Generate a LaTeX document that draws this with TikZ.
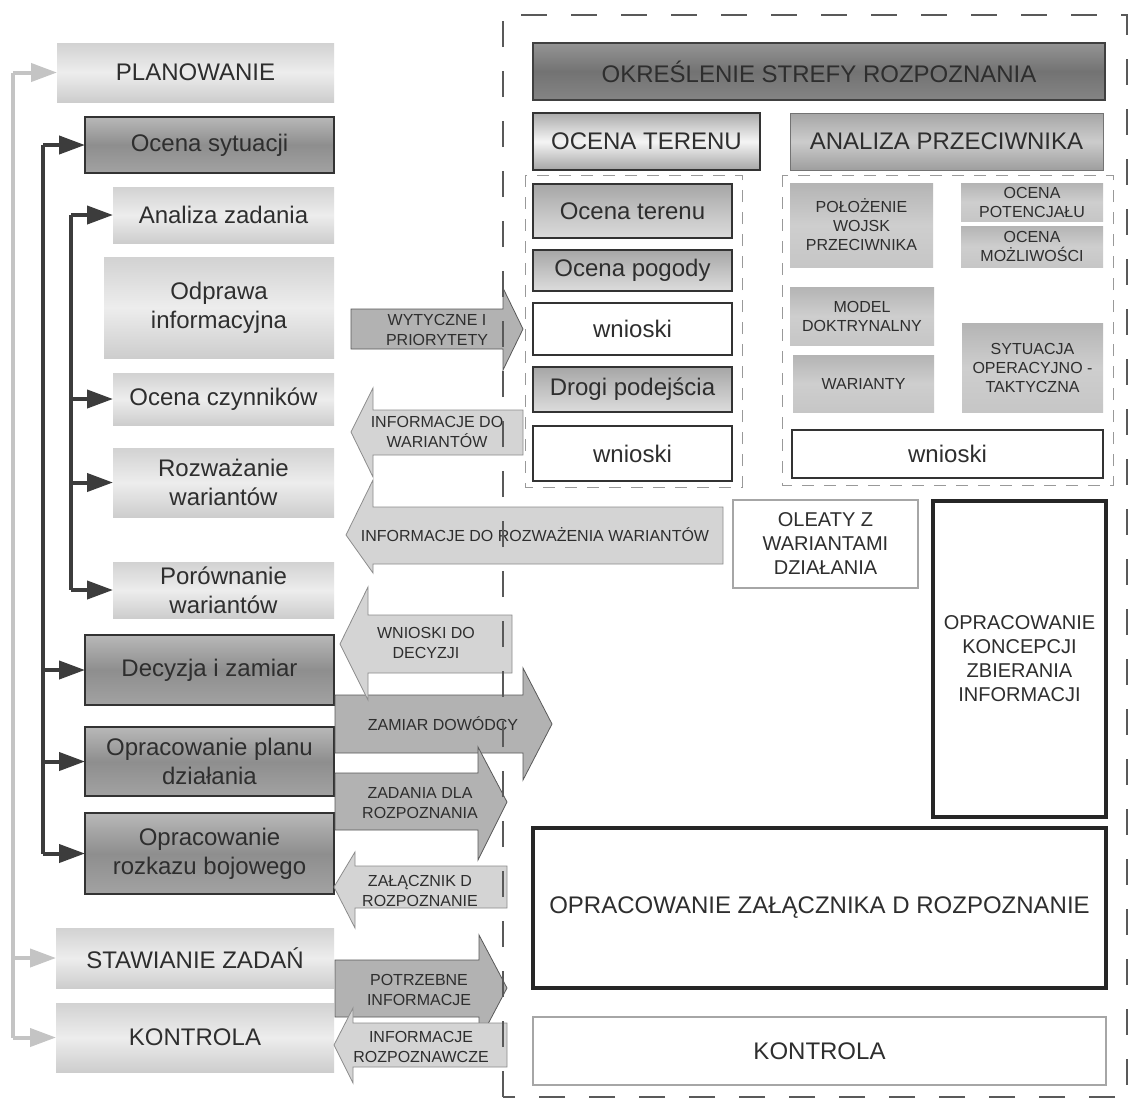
\documentclass[tikz,border=0pt]{standalone}
\usepackage{fontspec}
\setmainfont{Liberation Sans}
\usetikzlibrary{arrows.meta,calc}
\definecolor{txt}{HTML}{2E2E2E}
\definecolor{dk}{HTML}{333333}
\definecolor{lt1}{HTML}{D2D2D2}
\definecolor{lt2}{HTML}{EDEDED}
\definecolor{lt3}{HTML}{CDCDCD}
\definecolor{dg1}{HTML}{B8B8B8}
\definecolor{dg2}{HTML}{8E8E8E}
\definecolor{dg3}{HTML}{A2A2A2}
\definecolor{md1}{HTML}{A6A6A6}
\definecolor{md2}{HTML}{C2C2C2}
\definecolor{md3}{HTML}{DCDCDC}
\definecolor{sm1}{HTML}{B4B4B4}
\definecolor{sm2}{HTML}{CECECE}
\definecolor{sm3}{HTML}{C6C6C6}
\definecolor{glin}{HTML}{C4C4C4}
\definecolor{dlin}{HTML}{3C3C3C}
\newcommand\mybox[7]{%
  \pgfmathsetmacro\mbcx{(#3+#5)/2}\pgfmathsetmacro\mbcy{(#4+#6)/2}%
  \pgfmathsetmacro\mbww{#5-#3}\pgfmathsetmacro\mbhh{#6-#4}%
  \node[#2, minimum width=\mbww pt, minimum height=\mbhh pt] (#1) at (\mbcx,\mbcy) {#7};}
\begin{document}
\begin{tikzpicture}[x=1pt,y=-1pt,
  box/.style={inner sep=0pt, outer sep=0pt, align=center, text=txt, font=\fontsize{24}{29}\selectfont},
  lightbox/.style={box, top color=lt1, bottom color=lt3, middle color=lt2},
  darkbox/.style={box, draw=dk, line width=1.5pt, top color=dg1, bottom color=dg3, middle color=dg2},
  medbox/.style={box, draw=dk, line width=1.5pt, top color=md1, bottom color=md3, middle color=md2},
  whitebox/.style={box, draw=dk, line width=1.5pt, fill=white},
  smallbox/.style={box, font=\fontsize{16}{19}\selectfont, top color=sm1, bottom color=sm3, middle color=sm2},
  bigtxt/.style={box, font=\fontsize{20}{24}\selectfont, fill=white},
  arrtxt/.style={inner sep=0pt, align=center, text=txt, font=\fontsize{16}{19.5}\selectfont},
  fatdark/.style={draw=black!65, line width=0.8pt, fill=black!30},
  fatlight/.style={draw=black!45, line width=0.8pt, fill=black!17},
  gline/.style={draw=glin, line width=4pt},
  garrow/.style={draw=glin, line width=4pt, -{Triangle[length=26pt,width=18pt]}},
  dline/.style={draw=dlin, line width=4pt},
  darrow/.style={draw=dlin, line width=4pt, -{Triangle[length=26pt,width=18pt]}},
  outerdash/.style={draw=black!65, line width=2.5pt, dash pattern=on 26pt off 24pt},
  innerdash/.style={draw=black!40, line width=0.9pt, dash pattern=on 12pt off 10pt}
]
\fill[white] (0,0) rectangle (1130,1101);
\useasboundingbox (0,0) rectangle (1130,1101);

% ---------- left column ----------
\mybox{plan}{lightbox}{57}{43}{334}{102}{PLANOWANIE}
\mybox{ocs}{darkbox}{85}{117}{334}{173}{Ocena sytuacji}
\mybox{anz}{lightbox}{113}{187}{334}{243}{Analiza zadania}
\mybox{odp}{lightbox}{104}{257}{334}{358}{Odprawa\\informacyjna}
\mybox{ocz}{lightbox}{113}{373}{334}{425}{Ocena czynników}
\mybox{roz}{lightbox}{113}{448}{334}{517}{Rozważanie\\wariantów}
\mybox{por}{lightbox}{113}{562}{334}{618}{Porównanie\\wariantów}
\mybox{dec}{darkbox}{85}{635}{334}{705}{Decyzja i zamiar}
\mybox{opl}{darkbox}{85}{727}{334}{796}{Opracowanie planu\\działania}
\mybox{ork}{darkbox}{85}{813}{334}{894}{Opracowanie\\rozkazu bojowego}
\mybox{stw}{lightbox}{56}{928}{334}{988}{STAWIANIE ZADAŃ}
\mybox{kon}{lightbox}{56}{1003}{334}{1072}{KONTROLA}

% connectors (light gray)
\coordinate (gx) at (13,0);
\draw[gline] (gx |- plan.west) -- (gx |- kon.west);
\draw[garrow] (gx |- plan.west) -- (plan.west);
\draw[garrow] (gx |- stw.west) -- (stw.west);
\draw[garrow] (gx |- kon.west) -- (kon.west);
% connectors (dark, outer)
\coordinate (dx) at (43,0);
\draw[dline] (dx |- ocs.west) -- (dx |- ork.west);
\draw[darrow] (dx |- ocs.west) -- (ocs.west);
\draw[darrow] (dx |- dec.west) -- (dec.west);
\draw[darrow] (dx |- opl.west) -- (opl.west);
\draw[darrow] (dx |- ork.west) -- (ork.west);
% connectors (dark, inner)
\coordinate (ex) at (71,0);
\draw[dline] (ex |- anz.west) -- (ex |- por.west);
\draw[darrow] (ex |- anz.west) -- (anz.west);
\draw[darrow] (ex |- ocz.west) -- (ocz.west);
\draw[darrow] (ex |- roz.west) -- (roz.west);
\draw[darrow] (ex |- por.west) -- (por.west);

% ---------- fat arrows ----------
\draw[fatdark] (351,309) -- (503,309) -- (503,288) -- (523,329) -- (503,370) -- (503,349) -- (351,349) -- cycle;
\node[arrtxt] (a1) at (437,330) {WYTYCZNE I\\PRIORYTETY};
\draw[fatlight] (523,410) -- (373,410) -- (373,388) -- (351,432) -- (373,477) -- (373,455) -- (523,455) -- cycle;
\node[arrtxt] (a2) at (437,432) {INFORMACJE DO\\WARIANTÓW};
\draw[fatlight] (723,507) -- (373,507) -- (373,480) -- (346,535) -- (373,573) -- (373,564) -- (723,564) -- cycle;
\node[arrtxt] (a3) at (535,535) {INFORMACJE DO ROZWAŻENIA WARIANTÓW};
\draw[fatdark] (335,695) -- (523,695) -- (523,668) -- (552,724) -- (523,780) -- (523,753) -- (335,753) -- cycle;
\node[arrtxt] (a5) at (443,724) {ZAMIAR DOWÓDCY};
\draw[fatlight] (512,615) -- (368,615) -- (368,587) -- (340,644) -- (368,700) -- (368,673) -- (512,673) -- cycle;
\node[arrtxt] (a4) at (426,643) {WNIOSKI DO\\DECYZJI};
\draw[fatdark] (335,773) -- (478,773) -- (478,747) -- (507,802) -- (478,860) -- (478,830) -- (335,830) -- cycle;
\node[arrtxt] (a6) at (420,803) {ZADANIA DLA\\ROZPOZNANIA};
\draw[fatlight] (507,866) -- (355,866) -- (355,852) -- (334,887) -- (355,928) -- (355,908) -- (507,908) -- cycle;
\node[arrtxt] (a7) at (420,891) {ZAŁĄCZNIK D\\ROZPOZNANIE};
\draw[fatdark] (335,960) -- (479,960) -- (479,935) -- (507,988) -- (479,1041) -- (479,1017) -- (335,1017) -- cycle;
\node[arrtxt] (a8) at (419,990) {POTRZEBNE\\INFORMACJE};
\draw[fatlight] (507,1023) -- (353,1023) -- (353,1008) -- (334,1045) -- (353,1083) -- (353,1067) -- (507,1067) -- cycle;
\node[arrtxt] (a9) at (421,1047) {INFORMACJE\\ROZPOZNAWCZE};

% ---------- right panel ----------
\draw[outerdash] (503,1097) -- (503,15) -- (1127,15) -- (1127,1097) -- cycle;
\draw[innerdash] (525,175) rectangle (742,487);
\draw[innerdash] (782,175) rectangle (1113,485);

\mybox{okr}{box, draw=black!75, line width=1.5pt, top color=black!42, bottom color=black!48, middle color=black!55}{533}{43}{1105}{100}{OKREŚLENIE STREFY ROZPOZNANIA}
\mybox{ote}{box, draw=dk, line width=1.5pt, top color=black!33, bottom color=black!35, middle color=black!4}{533}{113}{760}{170}{OCENA TERENU}
\mybox{apr}{box, draw=black!55, line width=1pt, top color=black!35, bottom color=black!38, middle color=black!20}{790}{113}{1103}{170}{ANALIZA PRZECIWNIKA}

\mybox{oter}{medbox}{533}{184}{732}{238}{Ocena terenu}
\mybox{opog}{medbox}{533}{250}{732}{291}{Ocena pogody}
\mybox{wn1}{whitebox}{533}{303}{732}{355}{wnioski}
\mybox{drg}{medbox}{533}{367}{732}{412}{Drogi podejścia}
\mybox{wn2}{whitebox}{533}{426}{732}{481}{wnioski}

\mybox{pol}{smallbox}{790}{183}{933}{267}{POŁOŻENIE\\WOJSK\\PRZECIWNIKA}
\mybox{pot}{smallbox}{961}{183}{1103}{221}{OCENA\\POTENCJAŁU}
\mybox{moz}{smallbox}{961}{226}{1103}{267}{OCENA\\MOŻLIWOŚCI}
\mybox{mod}{smallbox}{790}{287}{934}{345}{MODEL\\DOKTRYNALNY}
\mybox{war}{smallbox}{793}{355}{934}{412}{WARIANTY}
\mybox{syt}{smallbox}{962}{323}{1103}{412}{SYTUACJA\\OPERACYJNO -\\TAKTYCZNA}
\mybox{wn3}{whitebox}{792}{430}{1103}{478}{wnioski}

\mybox{ole}{bigtxt, draw=black!35, line width=2.5pt}{733}{500}{918}{588}{OLEATY Z\\WARIANTAMI\\DZIAŁANIA}
\mybox{kzi}{bigtxt, draw=black!85, line width=3.5pt}{933}{501}{1106}{817}{OPRACOWANIE\\KONCEPCJI\\ZBIERANIA\\INFORMACJI}
\mybox{zal}{box, fill=white, draw=black!85, line width=3.5pt}{533}{828}{1106}{988}{OPRACOWANIE ZAŁĄCZNIKA D ROZPOZNANIE}
\mybox{konr}{box, fill=white, draw=black!35, line width=2.5pt}{533}{1017}{1106}{1085}{KONTROLA}
\end{tikzpicture}
\end{document}
